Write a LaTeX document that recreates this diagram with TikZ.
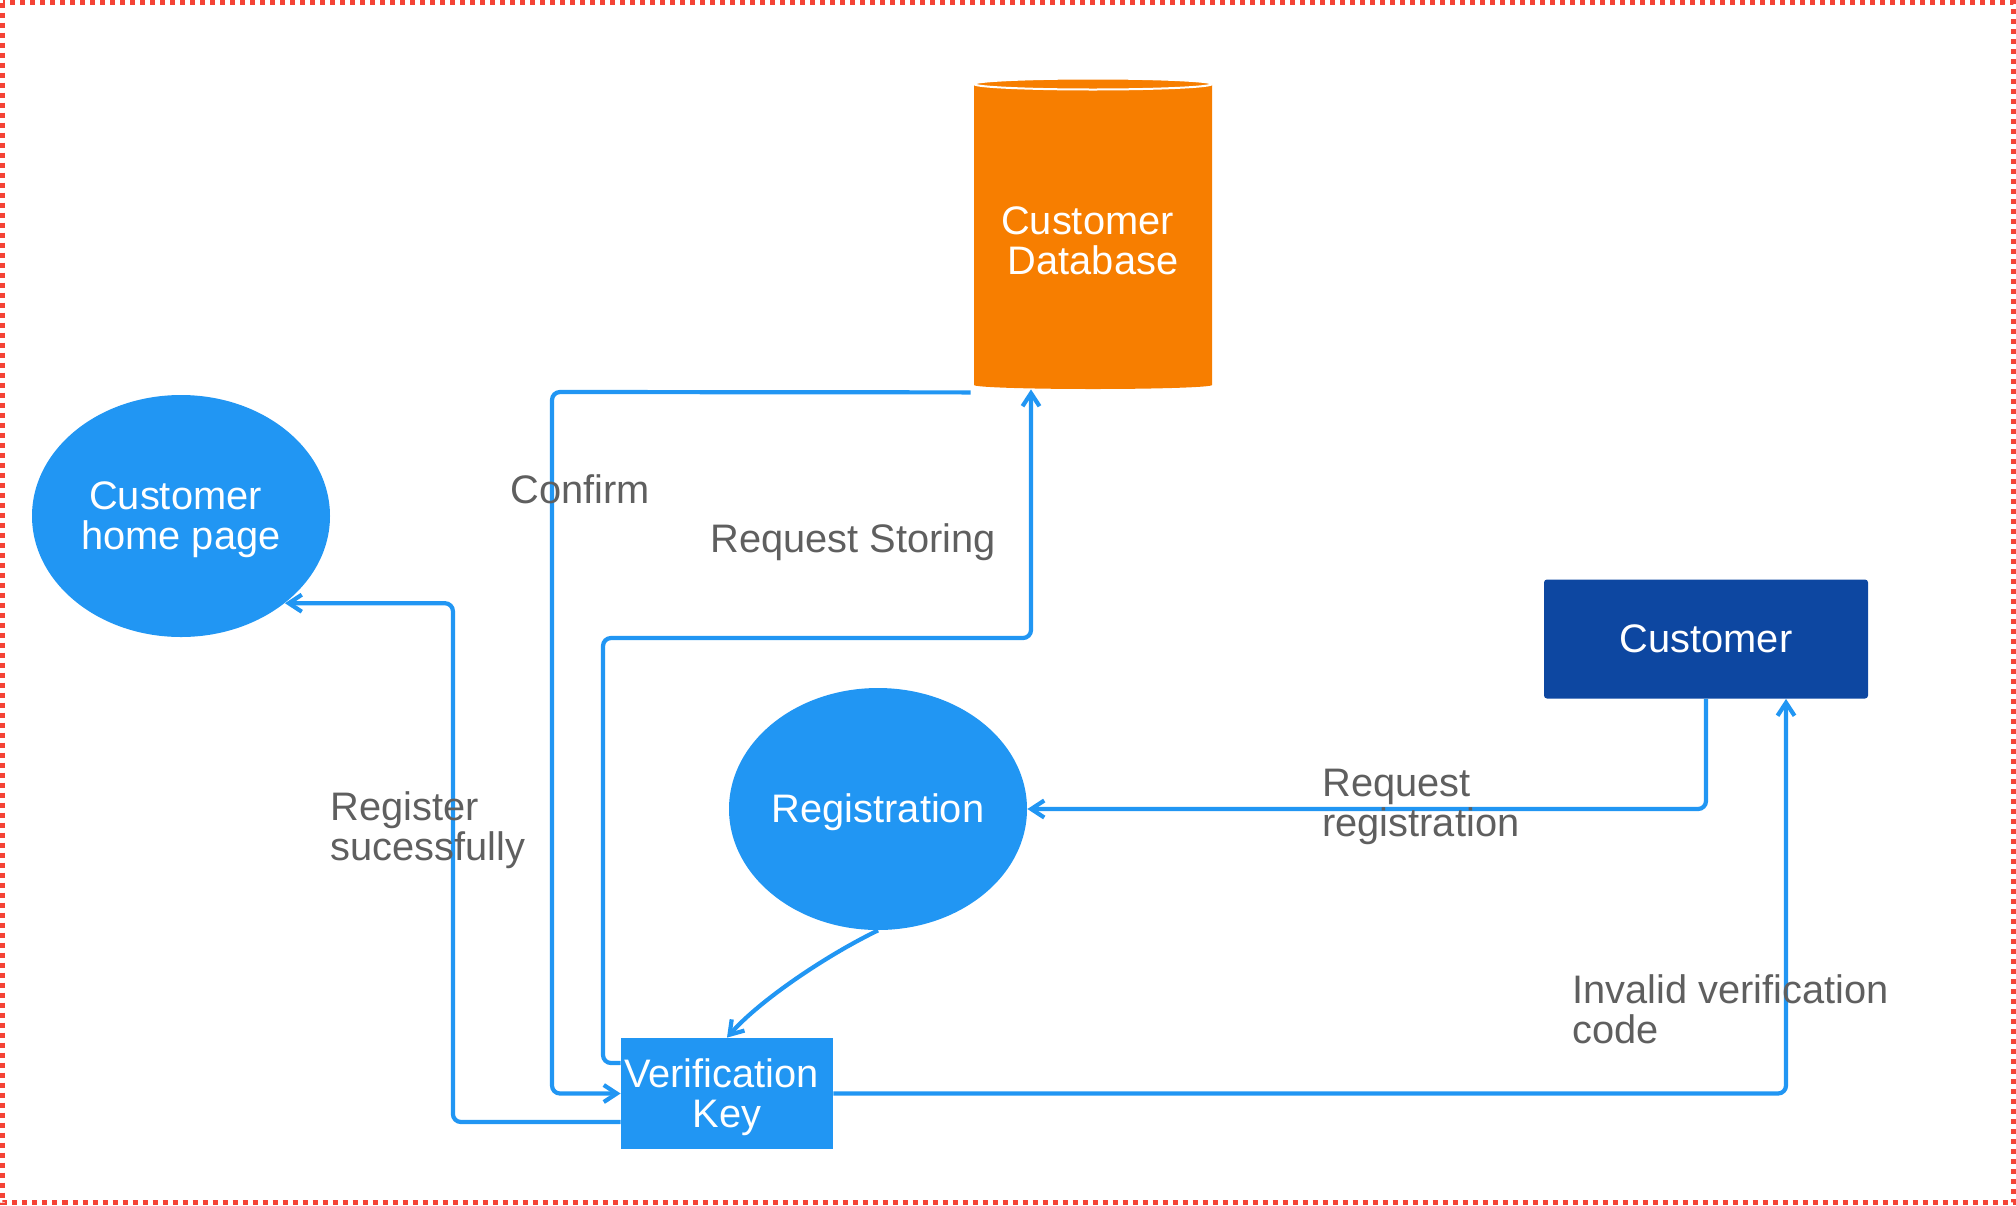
\documentclass[tikz,border=0pt]{standalone}
\usepackage{fontspec}
\setmainfont{Liberation Sans}
\usetikzlibrary{arrows.meta,shapes.geometric,calc}
\definecolor{lblue}{HTML}{2196F3}
\definecolor{dblue}{HTML}{0D47A1}
\definecolor{orng}{HTML}{F77E00}
\definecolor{gtext}{HTML}{5F5F5F}
\definecolor{bred}{HTML}{F44336}
\newcommand{\tsp}{\hbox to 0.278em{}}
\begin{document}
\begin{tikzpicture}[x=0.5pt,y=-0.5pt,
  lbl/.style={font=\fontsize{19.9}{20}\selectfont, text=gtext, anchor=west, inner sep=0pt, align=left},
  wtxt/.style={font=\fontsize{19.9}{20}\selectfont, text=white, align=center, inner sep=0pt},
  ell/.style={ellipse, fill=lblue, minimum width=149pt, minimum height=121pt, inner sep=0pt},
  conn/.style={draw=lblue, line width=2.1pt, rounded corners=4pt, -{Straight Barb[length=6.5pt,width=8.5pt]}}
]
\useasboundingbox (0,0) rectangle (2016,1205);
\draw[bred, line width=2.5pt, dash pattern=on 2.5pt off 2.5pt] (2.5,2.5) rectangle (2013.5,1202.5);
% database cylinder
\fill[orng] (974,84) -- (974,385) arc[start angle=180,end angle=360,x radius=59.5pt,y radius=2pt] -- (1212,84) arc[start angle=0,end angle=180,x radius=59.5pt,y radius=2.75pt] -- cycle;
\draw[white, line width=1pt, fill=orng] (1093,84) ellipse [x radius=59.5pt, y radius=2.75pt];
\node[minimum width=119pt, minimum height=152.5pt, inner sep=0pt] (db) at (1093,236.5) {};
\node[wtxt] (dbtext) at (1093,241) {Customer\tsp\\Database};
% nodes
\node[ell, label={[wtxt, yshift=-2pt]center:{Customer\tsp\\home page}}] (home) at (181,516) {};
\node[ell, label={[wtxt, yshift=-1.5pt]center:Registration}] (reg) at (878,809) {};
\node[wtxt, fill=dblue, rounded corners=1.5pt, minimum width=162pt, minimum height=59.5pt] (cust) at (1706,639) {Customer};
\node[fill=lblue, minimum width=106pt, minimum height=55.5pt, inner sep=0pt, label={[wtxt, yshift=-2pt]center:{Verification\tsp\\Key}}] (vk) at (727,1093.5) {};
% connectors
\draw[conn] ([shift={(-3,3)}]db.south west) -- (552,392) |- (vk.west);
\draw[conn] ([shift={(0,-30.5)}]vk.west) -| (603,638) -| ([xshift=-31pt]db.south);
\draw[conn] ([shift={(0,28.5)}]vk.west) -| ([xshift=84pt]home.-40) -- (home.-40);
\draw[conn] (cust.south) |- (reg.east);
\draw[conn] (reg.south) .. controls (827,955) and (760,1000) .. (vk.north);
\draw[conn] (vk.east) -| ([xshift=40pt]cust.south);
% labels
\node[lbl] (lconfirm) at (510,489) {Confirm};
\node[lbl] (lstore) at (710,542) {Request Storing};
\node[lbl] (lreg) at (330,830) {Register\\sucessfully};
\node[lbl] (lreq) at (1322,807) {Request\\registration};
\node[lbl] (linv) at (1572,1009) {Invalid verification\\code};
\end{tikzpicture}
\end{document}
